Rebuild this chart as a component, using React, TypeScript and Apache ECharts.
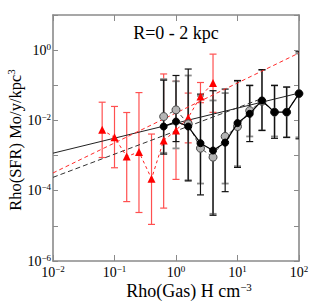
import React, { useEffect, useRef } from 'react';
import * as echarts from 'echarts';

// ---- data ----
const redX = [0.063, 0.1, 0.158, 0.25, 0.4, 0.63, 1.0, 1.58, 2.5, 4.0];
const redY = [0.0054, 0.0033, 0.00094, 0.00127, 0.00022, 0.0027, 0.0052, 0.012, 0.048, 0.116];
const redLo = [0.00088, 0.00045, 4.9e-5, 2.4e-5, 1.1e-5, 3.2e-5, 2.1e-4, 0.0023, 0.032, 0.017];
const redHi = [0.033, 0.025, 0.0168, 0.062, 0.0041, 0.21, 0.13, 0.06, 0.12, 0.77];

const bgX = [0.63, 1.0, 1.58, 2.5, 4.0, 6.3, 10, 15.8, 25, 40, 63, 100];
const blackY = [0.0067, 0.0093, 0.0067, 0.00225, 0.00139, 0.00234, 0.0084, 0.0154, 0.037, 0.0172, 0.0172, 0.058];
const blackLo = [0.0011, 0.0025, 1.9e-4, 7.6e-5, 2.0e-5, 9.4e-5, 4.6e-4, 0.0025, 0.0052, 0.0031, 0.0033, 0.003];
const blackHi = [0.14, 0.19, 0.29, 0.056, 0.07, 0.078, 0.137, 0.099, 0.28, 0.099, 0.089, 0.9];

const grayY = [0.0129, 0.02, 0.008, 0.00162, 0.0009, 0.0035, 0.0067, 0.019, 0.035, 0.0172, 0.0172, 0.058];
const grayLo = [0.0012, 0.0016, 2.0e-4, 1.6e-4, 2.2e-5, 1.6e-4, 5e-4, 0.0035, 0.0052, 0.0035, 0.0033, 0.0033];
const grayHi = [0.15, 0.13, 0.19, 0.05, 0.037, 0.06, 0.13, 0.099, 0.27, 0.099, 0.089, 0.8];

const fitSolid = [[0.01, 0.00117], [100, 0.06]];
const fitBlackDash = [[0.01, 2.4e-4], [25, 0.042]];
const fitRedDash = [[0.01, 3.2e-4], [100, 0.83]];

const titleText = 'R=0 - 2 kpc';

const SERIF = '"Liberation Serif", "Times New Roman", serif';

function pairs(xs: number[], ys: number[]) {
  return xs.map((x, i) => [x, ys[i]]);
}
function triples(xs: number[], lo: number[], hi: number[]) {
  return xs.map((x, i) => [x, lo[i], hi[i]]);
}

function errSeries(data: number[][], color: string, width: number, z: number) {
  return {
    type: 'custom',
    xAxisIndex: 0,
    yAxisIndex: 0,
    z,
    clip: true,
    silent: true,
    encode: { x: 0, y: [1, 2] },
    data,
    renderItem: (params: any, api: any) => {
      const x = api.value(0);
      const a = api.coord([x, api.value(1)]);
      const b = api.coord([x, api.value(2)]);
      const w = 3.5;
      const style = { stroke: color, lineWidth: width, fill: 'none' };
      return {
        type: 'group',
        children: [
          { type: 'line', shape: { x1: a[0], y1: a[1], x2: b[0], y2: b[1] }, style },
          { type: 'line', shape: { x1: a[0] - w, y1: a[1], x2: a[0] + w, y2: a[1] }, style },
          { type: 'line', shape: { x1: b[0] - w, y1: b[1], x2: b[0] + w, y2: b[1] }, style },
        ],
      };
    },
  };
}

function supLabel(v: number) {
  const e = Math.round(Math.log10(v));
  const s = e < 0 ? '\u2212' + Math.abs(e) : String(e);
  return '{b|10}{s|' + s + '}';
}

const richTick = {
  b: { fontFamily: SERIF, fontSize: 14, lineHeight: 14, color: '#000' },
  s: { fontFamily: SERIF, fontSize: 9, lineHeight: 9, color: '#000', padding: [0, 0, 7, 0] },
};

export default function App() {
  const ref = useRef<HTMLDivElement>(null);
  useEffect(() => {
    document.body.style.margin = '0';
    const chart = echarts.init(ref.current!, null, { renderer: 'svg' });
    const axisColor = '#8a8a8a';
    const baseX = {
      type: 'log',
      logBase: 10,
      min: 0.01,
      max: 100,
      interval: 1,
      splitLine: { show: false },
      axisLine: { show: true, lineStyle: { color: axisColor, width: 1.6 } },
      axisTick: { show: true, inside: true, length: 6, lineStyle: { color: axisColor, width: 1 } },
    };
    const baseY = {
      type: 'log',
      logBase: 10,
      min: 1e-6,
      max: 10,
      interval: 1,
      splitLine: { show: false },
      axisLine: { show: true, lineStyle: { color: axisColor, width: 1.6 } },
      axisTick: { show: true, inside: true, length: 5, lineStyle: { color: axisColor, width: 1 } },
    };
    const option: any = {
      animation: false,
      grid: { left: 53, top: 15, width: 246, height: 246, containLabel: false },
      xAxis: [
        {
          ...baseX,
          position: 'bottom',
          axisLabel: {
            show: true,
            margin: 4,
            formatter: (v: number) => supLabel(v),
            rich: richTick,
          },
        },
        { ...baseX, position: 'top', axisLabel: { show: false } },
      ],
      yAxis: [
        {
          ...baseY,
          position: 'left',
          axisLabel: {
            show: true,
            margin: 2,
            formatter: (v: number) => {
              const e = Math.round(Math.log10(v));
              if (Math.abs(e) % 2 === 1) return '';
              return supLabel(v);
            },
            rich: richTick,
          },
        },
        { ...baseY, position: 'right', axisLabel: { show: false } },
      ],
      graphic: [
        {
          type: 'text',
          x: 176,
          y: 33,
          style: {
            text: titleText,
            fontFamily: SERIF,
            fontSize: 18,
            fill: '#000',
            textAlign: 'center',
            textVerticalAlign: 'middle',
          },
        },
        {
          type: 'text',
          x: 15,
          y: 140,
          rotation: Math.PI / 2,
          style: {
            text: '{a|Rho(SFR) Mo/y/kpc}{s|3}',
            rich: {
              a: { fontFamily: SERIF, fontSize: 16.5, lineHeight: 17, fill: '#000' },
              s: { fontFamily: SERIF, fontSize: 11, lineHeight: 11, fill: '#000', padding: [0, 0, 8, 0] },
            },
            textAlign: 'center',
            textVerticalAlign: 'middle',
          },
        },
        {
          type: 'text',
          x: 189,
          y: 291,
          style: {
            text: '{a|Rho(Gas) H cm}{s|\u22123}',
            rich: {
              a: { fontFamily: SERIF, fontSize: 18, lineHeight: 18, fill: '#000' },
              s: { fontFamily: SERIF, fontSize: 11, lineHeight: 11, fill: '#000', padding: [0, 0, 8, 0] },
            },
            textAlign: 'center',
            textVerticalAlign: 'middle',
          },
        },
      ],
      series: [
        errSeries(triples(redX, redLo, redHi), '#ff5050', 1.2, 2),
        errSeries(triples(bgX, grayLo, grayHi), '#8c8c8c', 1.8, 3),
        errSeries(triples(bgX, blackLo, blackHi), '#111', 1.2, 4),
        {
          type: 'line',
          data: fitSolid,
          symbol: 'none',
          z: 5,
          lineStyle: { color: '#222', width: 1 },
        },
        {
          type: 'line',
          data: fitBlackDash,
          symbol: 'none',
          z: 5,
          lineStyle: { color: '#333', width: 1, type: [5, 3] },
        },
        {
          type: 'line',
          data: fitRedDash,
          symbol: 'none',
          z: 5,
          lineStyle: { color: '#ff2a2a', width: 1, type: [4, 3] },
        },
        {
          type: 'line',
          data: pairs(redX, redY),
          symbol: 'triangle',
          symbolSize: 8,
          z: 6,
          clip: false,
          itemStyle: { color: '#ff0000', borderWidth: 0 },
          lineStyle: { color: '#ff2020', width: 1, type: [3, 3] },
        },
        {
          type: 'line',
          data: pairs(bgX, grayY),
          symbol: 'circle',
          symbolSize: 8,
          z: 7,
          clip: false,
          itemStyle: { color: '#b4b4b4', borderColor: '#444', borderWidth: 1 },
          lineStyle: { color: '#444', width: 1, type: [4, 3] },
        },
        {
          type: 'line',
          data: pairs(bgX, blackY),
          symbol: 'circle',
          symbolSize: 7,
          z: 8,
          clip: false,
          itemStyle: { color: '#000', borderColor: '#000', borderWidth: 1 },
          lineStyle: { color: '#000', width: 1.2 },
        },
      ],
    };
    chart.setOption(option);
    return () => chart.dispose();
  }, []);
  return <div ref={ref} style={{ width: 327, height: 306 }} />;
}
